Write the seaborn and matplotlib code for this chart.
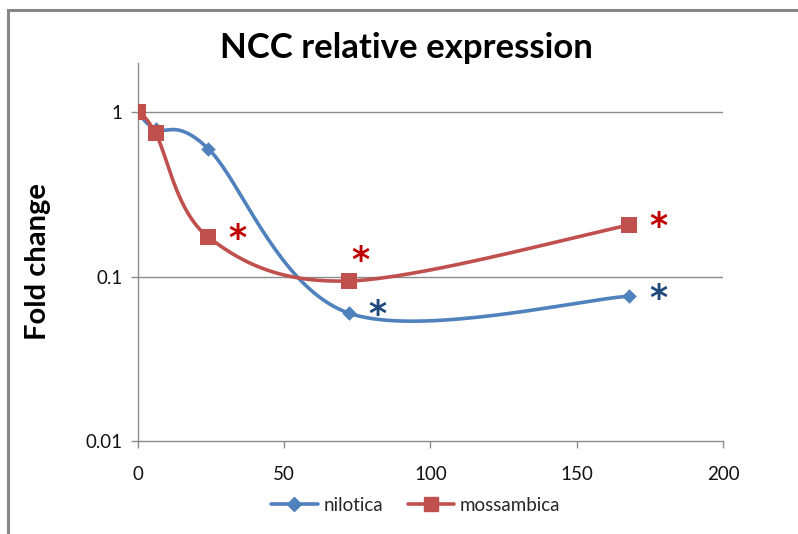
import numpy as np
import pandas as pd
import matplotlib
matplotlib.use("Agg")
import matplotlib.pyplot as plt
import matplotlib.transforms as mtransforms
from matplotlib.patches import Rectangle
from matplotlib.lines import Line2D
import seaborn as sns

# Sampling times (h) and fold change for each species
hours_nilotica = [0, 6, 24, 72, 168]
fold_nilotica = [1.0, 0.79, 0.60, 0.060, 0.076]
hours_mossambica = [0, 6, 24, 72, 168]
fold_mossambica = [1.0, 0.745, 0.174, 0.094, 0.206]

# Significance markers (x, y) per species
sig_nilotica = [(82, 0.064), (178, 0.080)]
sig_mossambica = [(34, 0.187), (76, 0.138), (178, 0.22)]

series_names = ["nilotica", "mossambica"]
blue, red = "#4F81BD", "#C0504D"
sig_blue, sig_red = "#1F497D", "#C00000"


def smooth_curve(x, y, n=40):
    """Catmull-Rom style smoothing in (x, log10 y) space."""
    px = np.asarray(x, float)
    py = np.log10(np.asarray(y, float))
    xs, ys = [], []
    m = len(px)
    for i in range(m - 1):
        p0 = (px[max(i - 1, 0)], py[max(i - 1, 0)])
        p1 = (px[i], py[i])
        p2 = (px[i + 1], py[i + 1])
        p3 = (px[min(i + 2, m - 1)], py[min(i + 2, m - 1)])
        c1 = (p1[0] + (p2[0] - p0[0]) / 6, p1[1] + (p2[1] - p0[1]) / 6)
        c2 = (p2[0] - (p3[0] - p1[0]) / 6, p2[1] - (p3[1] - p1[1]) / 6)
        t = np.linspace(0, 1, n, endpoint=(i == m - 2))
        b0 = (1 - t) ** 3
        b1 = 3 * (1 - t) ** 2 * t
        b2 = 3 * (1 - t) * t ** 2
        b3 = t ** 3
        xs.append(b0 * p1[0] + b1 * c1[0] + b2 * c2[0] + b3 * p2[0])
        ys.append(b0 * p1[1] + b1 * c1[1] + b2 * c2[1] + b3 * p2[1])
    return np.concatenate(xs), 10 ** np.concatenate(ys)


sns.set_theme(style="white")
plt.rcParams["font.family"] = ["Lato", "DejaVu Sans"]

fig = plt.figure(figsize=(7.98, 5.34), dpi=100)
ax = fig.add_axes([0.1729, 0.1742, 0.7331, 0.7078])

# Outer chart frame
fig.patches.append(Rectangle((8 / 798, -0.05), 1.2, (534 - 10) / 534 + 0.05,
                             transform=fig.transFigure, fill=False,
                             edgecolor="#868686", linewidth=2.2, zorder=0))

curves = []
for name, hx, fy in [("nilotica", hours_nilotica, fold_nilotica),
                     ("mossambica", hours_mossambica, fold_mossambica)]:
    sx, sy = smooth_curve(hx, fy)
    curves.append(pd.DataFrame({"hours": sx, "fold": sy, "species": name}))
curve_df = pd.concat(curves, ignore_index=True)

nil_df = pd.DataFrame({"hours": hours_nilotica, "fold": fold_nilotica})
mos_df = pd.DataFrame({"hours": hours_mossambica, "fold": fold_mossambica})

palette = {"nilotica": blue, "mossambica": red}
sns.lineplot(data=curve_df, x="hours", y="fold", hue="species", palette=palette,
             linewidth=2.6, sort=False, estimator=None, ax=ax, legend=False, zorder=3)
sns.scatterplot(data=nil_df, x="hours", y="fold", color=blue, marker="D", s=55,
                linewidth=0, ax=ax, zorder=4, legend=False)
sns.scatterplot(data=mos_df, x="hours", y="fold", color=red, marker="s", s=125,
                linewidth=0, ax=ax, zorder=5, legend=False)

# Asterisk glyphs sit high in their text box; shift them down so the
# glyph centre lands on the given coordinate.
star_tf = mtransforms.offset_copy(ax.transData, fig=fig, x=0, y=-7, units="dots")
for sx, sy in sig_nilotica:
    ax.text(sx, sy, "*", color=sig_blue, fontsize=25, fontweight="bold",
            ha="center", va="center", family="DejaVu Sans", transform=star_tf)
for sx, sy in sig_mossambica:
    ax.text(sx, sy, "*", color=sig_red, fontsize=25, fontweight="bold",
            ha="center", va="center", family="DejaVu Sans", transform=star_tf)

ax.set_yscale("log")
ax.set_xlim(0, 200)
ax.set_ylim(0.01, 1.99)
ax.set_yticks([0.01, 0.1, 1])
ax.set_yticklabels(["0.01", "0.1", "1"])
ax.set_xticks([0, 50, 100, 150, 200])
ax.set_xticklabels(["0", "50", "100", "150", "200"])
ax.yaxis.set_minor_locator(matplotlib.ticker.NullLocator())

for y in [0.1, 1]:
    ax.axhline(y, color="#8C8C8C", linewidth=1.0, zorder=1)

for side in ["top", "right"]:
    ax.spines[side].set_visible(False)
for side in ["left", "bottom"]:
    ax.spines[side].set_color("#8C8C8C")
    ax.spines[side].set_linewidth(1.0)

ax.tick_params(axis="both", which="major", length=5, width=1.0, color="#8C8C8C",
               labelsize=13.5, labelcolor="#111111", direction="out")
ax.tick_params(axis="x", pad=13, bottom=True)
ax.tick_params(axis="y", pad=6, left=True)

ax.set_xlabel("")
ax.set_ylabel("")
fig.text(38 / 798, 1 - 262 / 534, "Fold change", rotation=90, ha="center", va="center",
         fontsize=21, fontweight="bold", color="black")

fig.text(0.509, 1 - 58 / 534, "NCC relative expression", ha="center", va="baseline",
         fontsize=25, fontweight="bold", color="black")

# Legend
handles = [Line2D([], [], color=blue, linewidth=2.6, marker="D", markersize=7),
           Line2D([], [], color=red, linewidth=2.6, marker="s", markersize=10)]
fig.legend(handles, series_names, loc="center", bbox_to_anchor=(0.521, 0.054),
           ncol=2, frameon=False, fontsize=13.5, handlelength=2.5, columnspacing=1.3,
           handletextpad=0.3)

fig.savefig("out.png", dpi=100)
